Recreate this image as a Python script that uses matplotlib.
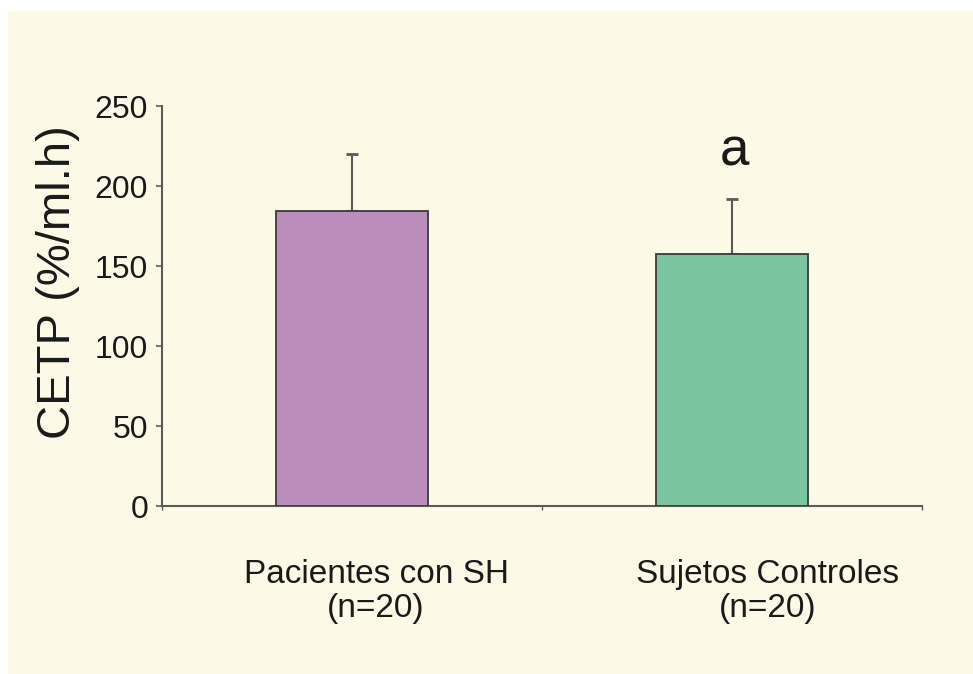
import matplotlib
matplotlib.use("Agg")
import matplotlib.pyplot as plt
from matplotlib.patches import Rectangle
import matplotlib.transforms as mtransforms

plt.rcParams['font.family'] = ['Liberation Sans', 'DejaVu Sans']

categories = ["Pacientes con SH\n(n=20)", "Sujetos Controles\n(n=20)"]
means = [184.5, 157.5]
errors = [35.5, 34.5]
colors = ["#BA8DBA", "#7BC4A0"]
sig_labels = ["", "a"]
yticks = [0, 50, 100, 150, 200, 250]

bg = "#FCFAE6"
axc = "#5a5a5a"

fig = plt.figure(figsize=(9.73, 6.74), dpi=100)
fig.patch.set_facecolor("white")
fig.patches.append(Rectangle((8/973, 0), 1 - 8/973, 1 - 11/674,
                             transform=fig.transFigure, facecolor=bg,
                             edgecolor="none", zorder=-10))

ax = fig.add_axes([162/973, 168/674, 760/973, 400/674])
ax.set_facecolor("none")

x = list(range(len(categories)))
ax.bar(x, means, width=0.4, color=colors, edgecolor="#3a3a3a", linewidth=1.3, zorder=3)
ax.errorbar(x, means, yerr=[[0]*len(means), errors], fmt="none", ecolor=axc,
            elinewidth=1.5, capsize=4.5, capthick=2, zorder=2)

for xi, m, e, s in zip(x, means, errors, sig_labels):
    if s:
        ax.annotate(s, xy=(xi, m + e), xytext=(2, 34), textcoords="offset points",
                    ha="center", va="center", fontsize=38, color="#1a1a1a")

ax.set_xlim(-0.5, 1.5)
ax.set_ylim(0, 250)
ax.set_yticks(yticks)
ax.set_xticks([-0.5, 0.5, 1.5])
ax.set_xticklabels([])

for sp in ["top", "right"]:
    ax.spines[sp].set_visible(False)
for sp in ["left", "bottom"]:
    ax.spines[sp].set_color(axc)
    ax.spines[sp].set_linewidth(1.5)

ax.tick_params(axis="y", direction="out", length=4, width=1.2, color=axc,
               labelsize=23, pad=6, labelcolor="#1a1a1a")
ax.tick_params(axis="x", direction="out", length=3, width=1.0, color=axc)

trans = mtransforms.blended_transform_factory(ax.transData, ax.transAxes)
offsets = [24, 36]
for xi, lab, off in zip(x, categories, offsets):
    ax.text(xi, -0.133, lab,
            transform=trans + mtransforms.ScaledTranslation(off/100, 0, fig.dpi_scale_trans),
            ha="center", va="top", fontsize=24, color="#1a1a1a",
            multialignment="center", linespacing=1.1)

fig.text(58/973, 1 - 282/674, "CETP (%/ml.h)", rotation=90, ha="center", va="center",
         fontsize=34, color="#1a1a1a")

fig.savefig("out.png", dpi=100, facecolor=fig.get_facecolor())
